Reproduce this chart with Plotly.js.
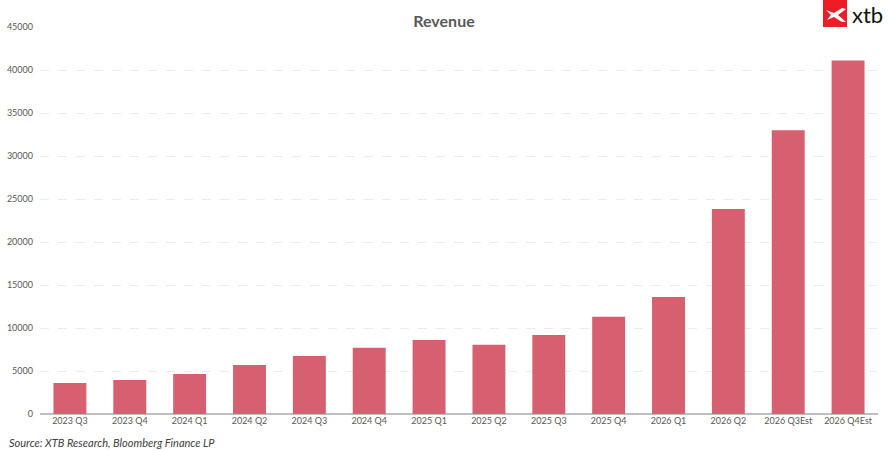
<!DOCTYPE html>
<html>
<head>
<meta charset="utf-8">
<script src="https://cdn.plot.ly/plotly-3.0.1.min.js"></script>
<style>
  html, body { margin: 0; padding: 0; background: #fff; }
  #chart { width: 888px; height: 451px; }
</style>
</head>
<body>
<div id="chart"></div>
<script>
const quarters = ['2023 Q3', '2023 Q4', '2024 Q1', '2024 Q2', '2024 Q3', '2024 Q4', '2025 Q1',
                  '2025 Q2', '2025 Q3', '2025 Q4', '2026 Q1', '2026 Q2', '2026 Q3Est', '2026 Q4Est'];
const revenue = [3600, 3950, 4650, 5700, 6750, 7700, 8600,
                 8050, 9200, 11300, 13600, 23850, 33000, 41100];
const yTicks = [0, 5000, 10000, 15000, 20000, 25000, 30000, 35000, 40000, 45000];

// plot area in pixels (used for the logo)
const W = 888, H = 451;
const L = 40, R = 10, T = 27, B = 37;
const px = x => (x - L) / (W - L - R);
const py = y => (H - B - y) / (H - T - B);

// white mark inside the red logo box
const mark = [[826,10],[834,13],[842,8],[846,9],[838,15],[846,22],[842,22],[834,17],[827,20],[831,15]];
const markPath = 'M' + mark.map(p => px(p[0]).toFixed(4) + ',' + py(p[1]).toFixed(4)).join(' L') + ' Z';

const bars = {
    x: quarters,
    y: revenue,
    type: 'bar',
    marker: { color: '#d6606f' },
    hoverinfo: 'x+y'
};

const layout = {
    width: W,
    height: H,
    margin: { l: L, r: R, t: T, b: B },
    paper_bgcolor: '#fff',
    plot_bgcolor: '#fff',
    showlegend: false,
    bargap: 0.45,
    font: { family: 'Lato, "Open Sans", sans-serif', color: '#595959', size: 9 },
    title: {
        text: '<b>Revenue</b>',
        x: 0.5, xref: 'container', y: 0.965, yref: 'container',
        font: { size: 16, color: '#595959', family: 'Lato, "Open Sans", sans-serif' }
    },
    xaxis: {
        type: 'category',
        showgrid: false,
        showline: false,
        ticks: '',
        tickfont: { size: 9, color: '#595959' },
        tickangle: 0,
        fixedrange: true
    },
    yaxis: {
        range: [0, 45000],
        tickvals: yTicks,
        ticktext: yTicks.map(String),
        showgrid: true,
        gridcolor: '#ebebeb',
        griddash: 'dash',
        gridwidth: 1,
        zeroline: true,
        zerolinecolor: '#bfbfbf',
        zerolinewidth: 1.5,
        showline: false,
        ticks: '',
        ticklabelstandoff: 6,
        tickfont: { size: 9, color: '#595959' },
        fixedrange: true
    },
    shapes: [
        { type: 'rect', xref: 'paper', yref: 'paper',
          x0: px(823), x1: px(847), y0: py(27), y1: py(0),
          fillcolor: '#ee1c25', line: { width: 0 }, layer: 'above' },
        { type: 'path', xref: 'paper', yref: 'paper', path: markPath,
          fillcolor: '#ffffff', line: { width: 0 }, layer: 'above' }
    ],
    annotations: [
        { text: 'xtb', xref: 'paper', yref: 'paper', x: px(850), y: py(15),
          xanchor: 'left', yanchor: 'middle', showarrow: false,
          font: { size: 22, color: '#111', family: 'Lato, "Open Sans", sans-serif' } },
        { text: '<i>Source: XTB Research, Bloomberg Finance LP</i>', xref: 'paper', yref: 'paper',
          x: px(7), y: py(442), xanchor: 'left', yanchor: 'middle', showarrow: false,
          font: { size: 11, color: '#404040', family: 'Lato, "Open Sans", sans-serif' } }
    ]
};

Plotly.newPlot('chart', [bars], layout, { displayModeBar: false, staticPlot: true });
</script>
</body>
</html>
